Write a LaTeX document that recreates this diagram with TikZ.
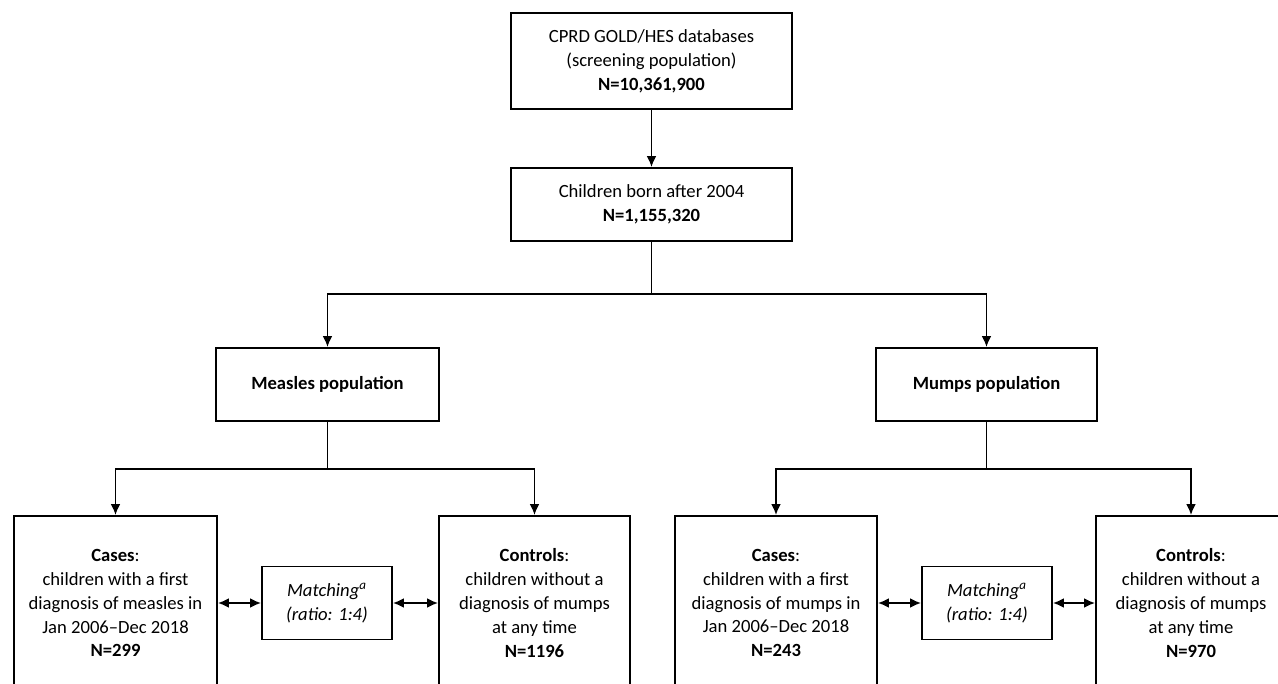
\documentclass[tikz,border=0pt]{standalone}
\usepackage{fontspec}
\setmainfont{Carlito}
\usetikzlibrary{arrows.meta}

\tikzset{
  box/.style={draw, line width=1.1pt, align=center, inner sep=2pt,
    font=\fontsize{10.6}{13.6}\selectfont},
  link/.style={line width=1.1pt}
}

\begin{document}
\begin{tikzpicture}[>={Latex[length=2.2mm,width=2mm]}]
\useasboundingbox (0,0) rectangle (25.56,-13.68);
%top of the chart
\node[box, minimum width=5.62cm, minimum height=1.92cm] (cprd) at (13.03,-1.22)
  {CPRD GOLD/HES databases\\(screening population)\\\textbf{N=10,361,900}};
\node[box, minimum width=5.62cm, minimum height=1.46cm] (kids) at (13.03,-4.09)
  {Children born after 2004\\\textbf{N=1,155,320}};
%two populations
\node[box, minimum width=4.46cm, minimum height=1.46cm] (measles) at (6.55,-7.69)
  {\textbf{Measles population}};
\node[box, minimum width=4.42cm, minimum height=1.46cm] (mumps) at (19.73,-7.69)
  {\textbf{Mumps population}};
%measles cases and controls
\node[box, minimum width=4.06cm, minimum height=3.48cm] (mcases) at (2.31,-12.06)
  {\textbf{Cases}:\\children with a first\\diagnosis of measles in\\Jan 2006--Dec 2018\\\textbf{N=299}};
\node[box, minimum width=2.6cm, minimum height=1.46cm] (mmatch) at (6.54,-12.06)
  {\textit{Matching\textsuperscript{a}}\\\textit{(ratio: 1:4)}};
\node[box, minimum width=3.82cm, minimum height=3.48cm] (mcontrols) at (10.69,-12.06)
  {\textbf{Controls}:\\children without a\\diagnosis of mumps\\at any time\\\textbf{N=1196}};
%mumps cases and controls
\node[box, minimum width=4.04cm, minimum height=3.48cm] (ucases) at (15.52,-12.06)
  {\textbf{Cases}:\\children with a first\\diagnosis of mumps in\\Jan 2006--Dec 2018\\\textbf{N=243}};
\node[box, minimum width=2.6cm, minimum height=1.46cm] (umatch) at (19.74,-12.06)
  {\textit{Matching\textsuperscript{a}}\\\textit{(ratio: 1:4)}};
\node[box, minimum width=3.8cm, minimum height=3.48cm] (ucontrols) at (23.82,-12.06)
  {\textbf{Controls}:\\children without a\\diagnosis of mumps\\at any time\\\textbf{N=970}};
%connectors
\coordinate (split) at (13.03,-5.88);
\coordinate (msplit) at (6.55,-9.38);
\coordinate (usplit) at (19.73,-9.38);
\draw[link, ->] (cprd) -- (kids);
\draw[link] (kids) -- (split);
\draw[link, ->] (split) -| (measles);
\draw[link, ->] (split) -| (mumps);
\draw[link] (measles) -- (msplit);
\draw[link, ->] (msplit) -| (mcases);
\draw[link, ->] (msplit) -| (mcontrols);
\draw[link] (mumps) -- (usplit);
\draw[link, ->] (usplit) -| (ucases);
\draw[link, ->] (usplit) -| (ucontrols);
\draw[link, <->] (mcases) -- (mmatch);
\draw[link, <->] (mmatch) -- (mcontrols);
\draw[link, <->] (ucases) -- (umatch);
\draw[link, <->] (umatch) -- (ucontrols);
\end{tikzpicture}
\end{document}
